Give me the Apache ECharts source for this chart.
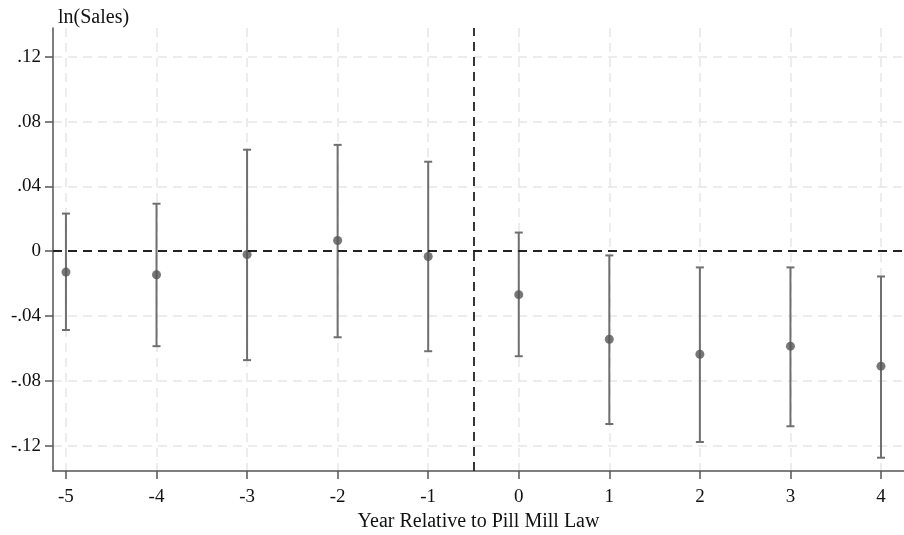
<!DOCTYPE html>
<html>
<head>
<meta charset="utf-8">
<script src="https://cdn.jsdelivr.net/npm/echarts@6/dist/echarts.min.js"></script>
<style>
  html, body { margin: 0; padding: 0; background: #fff; }
  #chart { width: 904px; height: 535px; }
</style>
</head>
<body>
<div id="chart"></div>
<script>
// years relative to the law
var years = [-5, -4, -3, -2, -1, 0, 1, 2, 3, 4];
// point estimates
var coef = [-0.0129, -0.0145, -0.0020, 0.0066, -0.0033, -0.0268, -0.0543, -0.0636, -0.0586, -0.0709];
// 95% interval ends
var ciLow = [-0.0486, -0.0586, -0.0672, -0.0531, -0.0617, -0.0648, -0.1066, -0.1177, -0.1080, -0.1274];
var ciHigh = [0.0232, 0.0293, 0.0626, 0.0656, 0.0552, 0.0115, -0.0026, -0.0100, -0.0100, -0.0156];
var yTicks = [-0.12, -0.08, -0.04, 0, 0.04, 0.08, 0.12];

var font = '"Liberation Serif", "Times New Roman", serif';

var myChart = echarts.init(document.getElementById('chart'));

var option = {
  animation: false,
  backgroundColor: '#fff',
  textStyle: { fontFamily: font },
  grid: { left: 53, right: 0, top: 28, bottom: 64, outerBoundsMode: 'none' },
  xAxis: {
    type: 'value',
    min: -5.143,
    max: 4.254,
    name: 'Year Relative to Pill Mill Law',
    nameLocation: 'middle',
    nameGap: 41,
    nameTextStyle: { fontFamily: font, fontSize: 20, color: '#111' },
    axisLine: { onZero: false, lineStyle: { color: '#555', width: 1.5 } },
    axisTick: { customValues: years, length: 8, lineStyle: { color: '#555', width: 1.5 } },
    axisLabel: {
      customValues: years,
      margin: 17,
      fontFamily: font,
      fontSize: 19,
      color: '#111'
    },
    splitLine: {
      show: true,
      lineStyle: { color: '#e6e6e6', width: 1.5, type: [9, 6] }
    }
  },
  yAxis: {
    type: 'value',
    min: -0.1356,
    max: 0.1377,
    name: 'ln(Sales)',
    nameLocation: 'end',
    nameGap: 0,
    nameTextStyle: { fontFamily: font, fontSize: 20, color: '#111', align: 'left', padding: [0, 0, 0, 5] },
    axisLine: { show: true, onZero: false, lineStyle: { color: '#555', width: 1.5 } },
    axisTick: { show: true, customValues: yTicks, length: 8, lineStyle: { color: '#555', width: 1.5 } },
    axisLabel: {
      customValues: yTicks,
      margin: 12,
      fontFamily: font,
      fontSize: 19,
      color: '#111',
      formatter: function (v) {
        if (Math.abs(v) < 1e-9) return '0';
        return v.toFixed(2).replace('0.', '.');
      }
    },
    splitLine: {
      show: true,
      lineStyle: { color: '#e6e6e6', width: 1.5, type: [9, 6] }
    }
  },
  series: [
    {
      name: 'ci',
      type: 'custom',
      silent: true,
      data: years.map(function (y, i) { return [y, ciLow[i], ciHigh[i]]; }),
      renderItem: function (params, api) {
        var lo = api.coord([api.value(0), api.value(1)]);
        var hi = api.coord([api.value(0), api.value(2)]);
        var w = 4;
        var style = { stroke: '#6f6f6f', lineWidth: 2 };
        return {
          type: 'group',
          children: [
            { type: 'line', shape: { x1: lo[0], y1: lo[1], x2: hi[0], y2: hi[1] }, style: style },
            { type: 'line', shape: { x1: lo[0] - w, y1: lo[1], x2: lo[0] + w, y2: lo[1] }, style: style },
            { type: 'line', shape: { x1: hi[0] - w, y1: hi[1], x2: hi[0] + w, y2: hi[1] }, style: style }
          ]
        };
      },
      markLine: {
        silent: true,
        symbol: 'none',
        label: { show: false },
        lineStyle: { color: '#222', width: 1.8, type: [9, 6] },
        data: [{ yAxis: 0 }, { xAxis: -0.5 }]
      },
      z: 3
    },
    {
      name: 'coef',
      type: 'scatter',
      symbol: 'circle',
      symbolSize: 9,
      itemStyle: { color: '#555' },
      data: years.map(function (y, i) { return [y, coef[i]]; }),
      z: 4
    }
  ]
};

myChart.setOption(option);
window.addEventListener('resize', function () {
  myChart.resize();
});
</script>
</body>
</html>
